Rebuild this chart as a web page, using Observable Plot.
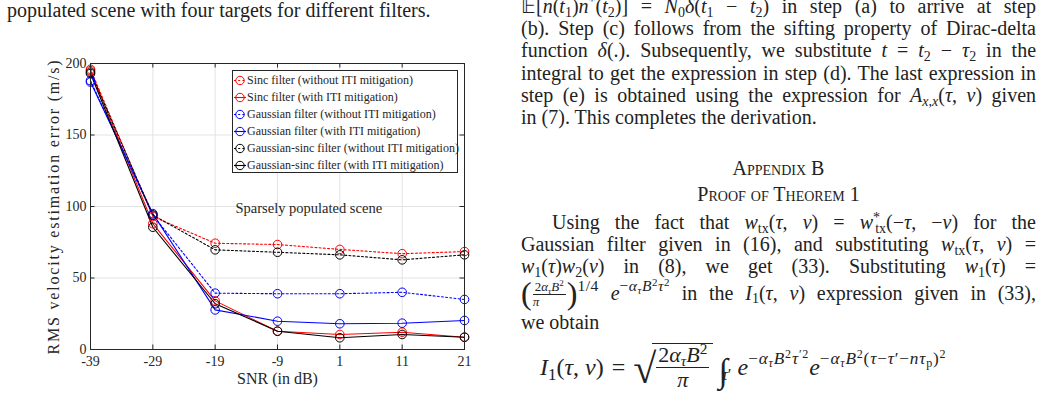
<!DOCTYPE html>
<html><head><meta charset="utf-8">
<script src="https://cdn.jsdelivr.net/npm/d3@7"></script>
<script src="https://cdn.jsdelivr.net/npm/@observablehq/plot@0.6"></script>
<style>
html,body{margin:0;padding:0}
body{width:1042px;height:410px;overflow:hidden;background:#fff;font-family:"Liberation Serif",serif;color:#222;position:relative}
#caption{position:absolute;left:7px;top:-1px;font-size:20px;line-height:22px;white-space:nowrap}
#chart{position:absolute;left:0;top:40px}
#legend{position:absolute;left:232px;top:70px;width:226px;height:103px;border:1px solid #262626;background:#fff;box-sizing:border-box;padding-top:1px}
.lrow{display:flex;align-items:center;height:17px;font-size:12px;line-height:17px;color:#262626;white-space:nowrap}
.lrow svg{flex:none;display:block}
.col{position:absolute;left:521px;width:515px;font-size:20px;line-height:22.2px}
.j{text-align:justify;text-align-last:justify}
.l{text-align:left}
.c{text-align:center;font-variant:small-caps}
sub{font-size:.7em;vertical-align:-0.28em;line-height:0}
sup{font-size:.7em;vertical-align:0.5em;line-height:0}
.frac{display:inline-block;vertical-align:-0.5em;text-align:center;font-size:13px;line-height:12px;margin:0 1px}
.frac .num{display:block;border-bottom:1px solid #222;padding:0 2px 1px}
.frac .den{display:block;padding-top:1px}
.bigp{font-size:32px;vertical-align:-0.14em;line-height:0;font-weight:300}
.ex{font-size:.78em;vertical-align:0.55em;line-height:0;letter-spacing:.5px}
.eq{position:absolute;left:540px;font-size:24px;line-height:24px;white-space:nowrap}
.eq .op{margin:0 8px}
.frac2{display:inline-block;vertical-align:-0.55em;text-align:center;font-size:22px;line-height:21px;border-top:1px solid #222;padding:0 4px}
.frac2 .num{display:block;border-bottom:1.5px solid #222;padding:0 2px 2px}
.frac2 .den{display:block;padding-top:1px}
.sqrt{font-size:42px;vertical-align:-0.2em;line-height:0;margin-right:-4px}
.int{font-size:34px;vertical-align:-0.22em;line-height:0;font-style:italic;margin-left:5px}
.eq .ex{font-size:.72em;vertical-align:0.65em;letter-spacing:.8px}
</style></head><body>
<div id="caption">populated scene with four targets for different filters.</div>
<div id="chart"></div>
<div id="legend"></div>

<div class="col" style="top:-5px">
<div class="j">𝔼[<i>n</i>(<i>t</i><sub>1</sub>)<i>n</i><sup>*</sup>(<i>t</i><sub>2</sub>)] = <i>N</i><sub>0</sub><i>δ</i>(<i>t</i><sub>1</sub> − <i>t</i><sub>2</sub>) in step (a) to arrive at step</div>
<div class="j">(b). Step (c) follows from the sifting property of Dirac-delta</div>
<div class="j">function <i>δ</i>(.). Subsequently, we substitute <i>t</i> = <i>t</i><sub>2</sub> − <i>τ</i><sub>2</sub> in the</div>
<div class="j">integral to get the expression in step (d). The last expression in</div>
<div class="j">step (e) is obtained using the expression for <i>A</i><sub><i>x</i>,<i>x</i></sub>(<i>τ</i>, <i>ν</i>) given</div>
<div class="l">in (7). This completes the derivation.</div>
</div>
<div class="col c" style="top:157px">Appendix B</div>
<div class="col c" style="top:183px">Proof of Theorem 1</div>
<div class="col" style="top:211px;line-height:22px">
<div class="j" style="padding-left:31px">Using the fact that <i>w</i><sub>tx</sub>(<i>τ</i>, <i>ν</i>) = <i>w</i><sup>*</sup><sub style="margin-left:-0.35em">tx</sub>(−<i>τ</i>, −<i>ν</i>) for the</div>
<div class="j">Gaussian filter given in (16), and substituting <i>w</i><sub>tx</sub>(<i>τ</i>, <i>ν</i>) =</div>
<div class="j"><i>w</i><sub>1</sub>(<i>τ</i>)<i>w</i><sub>2</sub>(<i>ν</i>) in (8), we get (33). Substituting <i>w</i><sub>1</sub>(<i>τ</i>) =</div>
</div>
<div class="col j" style="top:281px;line-height:22px"><span class="bigp">(</span><span class="frac"><span class="num">2<i>α</i><sub><i>τ</i></sub><i>B</i><sup>2</sup></span><span class="den"><i>π</i></span></span><span class="bigp">)</span><span class="ex">1/4</span> <i>e</i><span class="ex">−<i>α</i><sub><i>τ</i></sub><i>B</i><sup>2</sup><i>τ</i><sup>2</sup></span> in the <i>I</i><sub>1</sub>(<i>τ</i>, <i>ν</i>) expression given in (33),</div>
<div class="col l" style="top:311px;line-height:22px">we obtain</div>
<div class="eq" style="top:343px"><i>I</i><sub>1</sub>(<i>τ</i>, <i>ν</i>)<span class="op">=</span><span class="sqrt">√</span><span class="frac2"><span class="num">2<i>α</i><sub><i>τ</i></sub><i>B</i><sup>2</sup></span><span class="den"><i>π</i></span></span><span class="int">∫</span><sub style="margin-left:-6px;margin-right:6px"><i>τ</i>′</sub><i>e</i><span class="ex">−<i>α</i><sub><i>τ</i></sub><i>B</i><sup>2</sup><i>τ</i><sup>′2</sup></span><i>e</i><span class="ex">−<i>α</i><sub><i>τ</i></sub><i>B</i><sup>2</sup>(<i>τ</i>−<i>τ</i>′−<i>nτ</i><sub>p</sub>)<sup>2</sup></span></div>

<script>
// ---- data ----
const snr = [-39, -29, -19, -9, 1, 11, 21];
const xTickLabels = ["-39", "-29", "-19", "-9", "1", "11", "21"];
const yTicks = [0, 50, 100, 150, 200];
const seriesNames = [
  "Sinc filter (without ITI mitigation)",
  "Sinc filter (with ITI mitigation)",
  "Gaussian filter (without ITI mitigation)",
  "Gaussian filter (with ITI mitigation)",
  "Gaussian-sinc filter (without ITI mitigation)",
  "Gaussian-sinc filter (with ITI mitigation)"
];
const sincWithout  = [196, 93, 74.3, 73.4, 70, 67, 68.5];
const sincWith     = [195, 88, 34, 12.8, 10.5, 12.1, 8.6];
const gaussWithout = [188, 94, 39.4, 39, 39, 40, 35];
const gaussWith    = [187, 95, 27.7, 19.8, 18, 18.4, 20.3];
const gsWithout    = [194, 94, 69.7, 68, 66.2, 62.7, 66.2];
const gsWith       = [193, 85.5, 32, 12.8, 8.2, 10.5, 8.6];
const seriesColors = ["#ff0000", "#ff0000", "#0000ff", "#0000ff", "#000000", "#000000"];
const seriesDotted = [true, false, true, false, true, false];
const xLabel = "SNR (in dB)";
const yLabel = "RMS velocity estimation error (m/s)";
const sceneLabel = "Sparsely populated scene";

// ---- build table ----
const seriesValues = [sincWithout, sincWith, gaussWithout, gaussWith, gsWithout, gsWith];
const rows = [];
seriesNames.forEach((name, i) => snr.forEach((s, j) => rows.push({series: name, idx: i, snr: s, value: seriesValues[i][j]})));

const W = 480, H = 370, mL = 90, mR = 16, mT = 23, mB = 61;
const plotW = W - mL - mR, plotH = H - mT - mB;
const tk = 4.5, dash = "2,2.2", gridC = "#e3e3e3", axC = "#262626";

const marks = [
  Plot.gridX(snr, {stroke: gridC, strokeOpacity: 1}),
  Plot.gridY(yTicks, {stroke: gridC, strokeOpacity: 1}),
  ...seriesNames.map((n, i) => Plot.line(rows.filter(d => d.idx === i), {
    x: "snr", y: "value", stroke: seriesColors[i], strokeWidth: 1.1,
    ...(seriesDotted[i] ? {strokeDasharray: dash} : {})
  })),
  ...seriesNames.map((n, i) => Plot.dot(rows.filter(d => d.idx === i), {
    x: "snr", y: "value", r: 4.3, stroke: seriesColors[i], strokeWidth: 1, fill: "none"
  })),
  Plot.tickX(snr, {x: d => d, stroke: axC, insetTop: plotH - tk}),
  Plot.tickX(snr, {x: d => d, stroke: axC, insetBottom: plotH - tk}),
  Plot.tickY(yTicks, {y: d => d, stroke: axC, insetRight: plotW - tk}),
  Plot.tickY(yTicks, {y: d => d, stroke: axC, insetLeft: plotW - tk}),
  Plot.frame({stroke: axC, strokeWidth: 1}),
  Plot.axisX(snr, {tickSize: 0, tickPadding: 7, tickFormat: d => xTickLabels[snr.indexOf(d)], fontSize: 14, label: null}),
  Plot.axisY(yTicks, {tickSize: 0, tickPadding: 4, fontSize: 14, label: null}),
  Plot.text([xLabel], {text: d => d, frameAnchor: "bottom", dy: 34, fontSize: 16}),
  Plot.text([yLabel], {text: d => d, frameAnchor: "left", textAnchor: "middle", dx: -37, rotate: -90, fontSize: 16}),
  Plot.text([sceneLabel], {text: d => d, frameAnchor: "top-left", dx: 145, dy: 139, textAnchor: "start", fontSize: 14.5})
];

const chart = Plot.plot({
  width: W, height: H,
  marginLeft: mL, marginRight: mR, marginTop: mT, marginBottom: mB,
  x: {domain: [-39, 21], label: null},
  y: {domain: [0, 200], label: null},
  style: {fontFamily: "'Liberation Serif', serif", fontSize: "14px", color: axC, background: "transparent", overflow: "visible"},
  marks
});
document.getElementById("chart").appendChild(chart);
d3.select(chart).selectAll("text").filter(function() { return this.textContent === yLabel; }).style("letter-spacing", "1.8px");

// ---- legend ----
const leg = d3.select("#legend");
seriesNames.forEach((name, i) => {
  const row = leg.append("div").attr("class", "lrow");
  const s = row.append("svg").attr("width", 14).attr("height", 17);
  s.append("line").attr("x1", 1).attr("x2", 13).attr("y1", 8.5).attr("y2", 8.5)
    .attr("stroke", seriesColors[i]).attr("stroke-width", 1.1)
    .attr("stroke-dasharray", seriesDotted[i] ? dash : null);
  s.append("circle").attr("cx", 7).attr("cy", 8.5).attr("r", 4.2)
    .attr("fill", "none").attr("stroke", seriesColors[i]);
  row.append("span").text(name);
});
</script>
</body></html>
